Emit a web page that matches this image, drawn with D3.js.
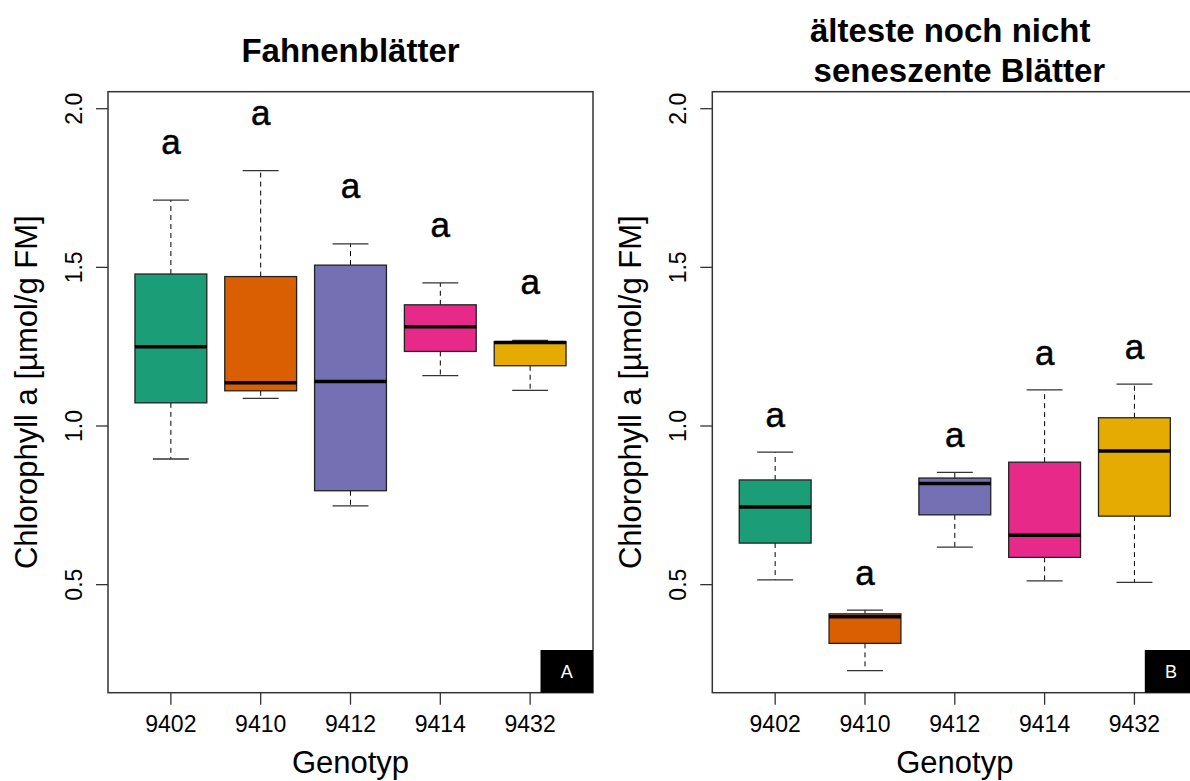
<!DOCTYPE html>
<html>
<head>
<meta charset="utf-8">
<script src="https://cdn.jsdelivr.net/npm/d3@7"></script>
<style>
  body { margin: 0; background: #fff; }
  text { font-family: "Liberation Sans", Arial, sans-serif; fill: #000; }
</style>
</head>
<body>
<svg id="mysvg" width="1190" height="781"></svg>
<script>
// genotypes on the x axis
const genotypes = ["9402", "9410", "9412", "9414", "9432"];
const yTicks = [0.5, 1.0, 1.5, 2.0];

// panel A: Fahnenblaetter (boxplot statistics)
const flagLow  = [0.896, 1.087, 0.748, 1.159, 1.112];
const flagQ1   = [1.073, 1.111, 0.796, 1.235, 1.190];
const flagMed  = [1.250, 1.136, 1.140, 1.313, 1.263];
const flagQ3   = [1.479, 1.471, 1.507, 1.382, 1.266];
const flagHigh = [1.712, 1.805, 1.574, 1.451, 1.270];
const flagLetters = ["a", "a", "a", "a", "a"];

// panel B: aelteste noch nicht seneszente Blaetter
const oldLow  = [0.515, 0.229, 0.618, 0.512, 0.507];
const oldQ1   = [0.631, 0.315, 0.720, 0.586, 0.716];
const oldMed  = [0.745, 0.399, 0.819, 0.656, 0.921];
const oldQ3   = [0.830, 0.408, 0.836, 0.886, 1.026];
const oldHigh = [0.918, 0.420, 0.854, 1.114, 1.132];
const oldLetters = ["a", "a", "a", "a", "a"];

const boxColors = ["#1B9E77", "#D95F02", "#7570B3", "#E7298A", "#E6AB02"];

const plotTop = 91.7;
const plotW = 485;
const plotH = 601;

var chartsvg = d3.select("#mysvg");

var y = d3.scaleLinear()
    .domain([0.1595, 2.0536])
    .range([plotTop + plotH, plotTop]);

function drawPanel(left, titleLines, stats, letters, letterOffset, tag)
{
    var x = d3.scalePoint()
        .domain(genotypes)
        .range([0, plotW])
        .padding(0.7);
    var bw = x.step() * 0.8;
    var cap = x.step() * 0.4;

    var g = chartsvg.append("g")
        .attr("transform", "translate(" + left + ",0)");

    var rows = genotypes.map(function(d, i) {
        return {name: d, low: stats[0][i], q1: stats[1][i], med: stats[2][i],
                q3: stats[3][i], high: stats[4][i], letter: letters[i], color: boxColors[i]};
    });

    var box = g.selectAll(".box")
        .data(rows)
        .enter()
        .append("g")
        .attr("class", "box")
        .attr("transform", function(d) { return "translate(" + x(d.name) + ",0)"; });

    // whiskers (dashed)
    box.append("line")
        .attr("y1", function(d) { return y(d.q3); })
        .attr("y2", function(d) { return y(d.high); })
        .attr("stroke", "#000").attr("stroke-width", 1).attr("stroke-dasharray", "5,4");
    box.append("line")
        .attr("y1", function(d) { return y(d.q1); })
        .attr("y2", function(d) { return y(d.low); })
        .attr("stroke", "#000").attr("stroke-width", 1).attr("stroke-dasharray", "5,4");

    // staples
    box.append("line")
        .attr("x1", -cap / 2).attr("x2", cap / 2)
        .attr("y1", function(d) { return y(d.high); })
        .attr("y2", function(d) { return y(d.high); })
        .attr("stroke", "#333").attr("stroke-width", 1.3);
    box.append("line")
        .attr("x1", -cap / 2).attr("x2", cap / 2)
        .attr("y1", function(d) { return y(d.low); })
        .attr("y2", function(d) { return y(d.low); })
        .attr("stroke", "#333").attr("stroke-width", 1.3);

    box.append("rect")
        .attr("x", -bw / 2)
        .attr("width", bw)
        .attr("y", function(d) { return y(d.q3); })
        .attr("height", function(d) { return y(d.q1) - y(d.q3); })
        .attr("fill", function(d) { return d.color; })
        .attr("stroke", "#222")
        .attr("stroke-width", 1.3);

    box.append("line")
        .attr("x1", -bw / 2).attr("x2", bw / 2)
        .attr("y1", function(d) { return y(d.med); })
        .attr("y2", function(d) { return y(d.med); })
        .attr("stroke", "#000").attr("stroke-width", 3.5);

    // significance letters
    box.append("text")
        .attr("text-anchor", "middle")
        .attr("y", function(d) { return y(d.high + letterOffset) + 10; })
        .style("font-size", "35px")
        .style("stroke", "#000")
        .style("stroke-width", 0.5)
        .text(function(d) { return d.letter; });

    // frame
    g.append("rect")
        .attr("x", 0).attr("y", plotTop)
        .attr("width", plotW).attr("height", plotH)
        .attr("fill", "none")
        .attr("stroke", "#333")
        .attr("stroke-width", 1.5);

    // y axis
    var yax = g.selectAll(".ytick")
        .data(yTicks)
        .enter()
        .append("g")
        .attr("class", "ytick");
    yax.append("line")
        .attr("x1", -12).attr("x2", 0)
        .attr("y1", function(d) { return y(d); })
        .attr("y2", function(d) { return y(d); })
        .attr("stroke", "#333").attr("stroke-width", 1.3);
    yax.append("text")
        .attr("text-anchor", "middle")
        .attr("transform", function(d) { return "translate(-26," + y(d) + ") rotate(-90)"; })
        .style("font-size", "23px")
        .text(function(d) { return d3.format(".1f")(d); });

    // x axis
    var xax = g.selectAll(".xtick")
        .data(genotypes)
        .enter()
        .append("g")
        .attr("class", "xtick");
    xax.append("line")
        .attr("x1", function(d) { return x(d); })
        .attr("x2", function(d) { return x(d); })
        .attr("y1", plotTop + plotH).attr("y2", plotTop + plotH + 12)
        .attr("stroke", "#333").attr("stroke-width", 1.3);
    xax.append("text")
        .attr("text-anchor", "middle")
        .attr("x", function(d) { return x(d); })
        .attr("y", 731.7)
        .style("font-size", "23px")
        .text(function(d) { return d; });

    g.append("text")
        .attr("text-anchor", "middle")
        .attr("x", plotW / 2)
        .attr("y", 772.7)
        .style("font-size", "31px")
        .text("Genotyp");

    g.append("text")
        .attr("text-anchor", "middle")
        .attr("transform", "translate(-71," + (plotTop + plotH / 2) + ") rotate(-90)")
        .style("font-size", "31px")
        .text("Chlorophyll a [µmol/g FM]");

    // title (one or two lines)
    var firstBase = 61.7 - (titleLines.length - 1) * 20;
    g.selectAll(".title")
        .data(titleLines)
        .enter()
        .append("text")
        .attr("class", "title")
        .attr("text-anchor", "middle")
        .attr("x", plotW / 2)
        .attr("y", function(d, i) { return firstBase + i * 40; })
        .style("font-size", "33px")
        .style("font-weight", "bold")
        .style("white-space", "pre")
        .text(function(d) { return d; });

    // panel tag in the corner
    g.append("rect")
        .attr("x", plotW - 52.5).attr("y", 650)
        .attr("width", 52.5).attr("height", plotTop + plotH - 650)
        .attr("fill", "#000");
    g.append("text")
        .attr("text-anchor", "middle")
        .attr("x", plotW - 26.25)
        .attr("y", 678)
        .style("font-size", "18px")
        .style("fill", "#fff")
        .text(tag);
}

drawPanel(108, ["Fahnenblätter"],
    [flagLow, flagQ1, flagMed, flagQ3, flagHigh], flagLetters, 0.176, "A");
drawPanel(712.3, ["älteste noch nicht ", " seneszente Blätter"],
    [oldLow, oldQ1, oldMed, oldQ3, oldHigh], oldLetters, 0.11, "B");
</script>
</body>
</html>
